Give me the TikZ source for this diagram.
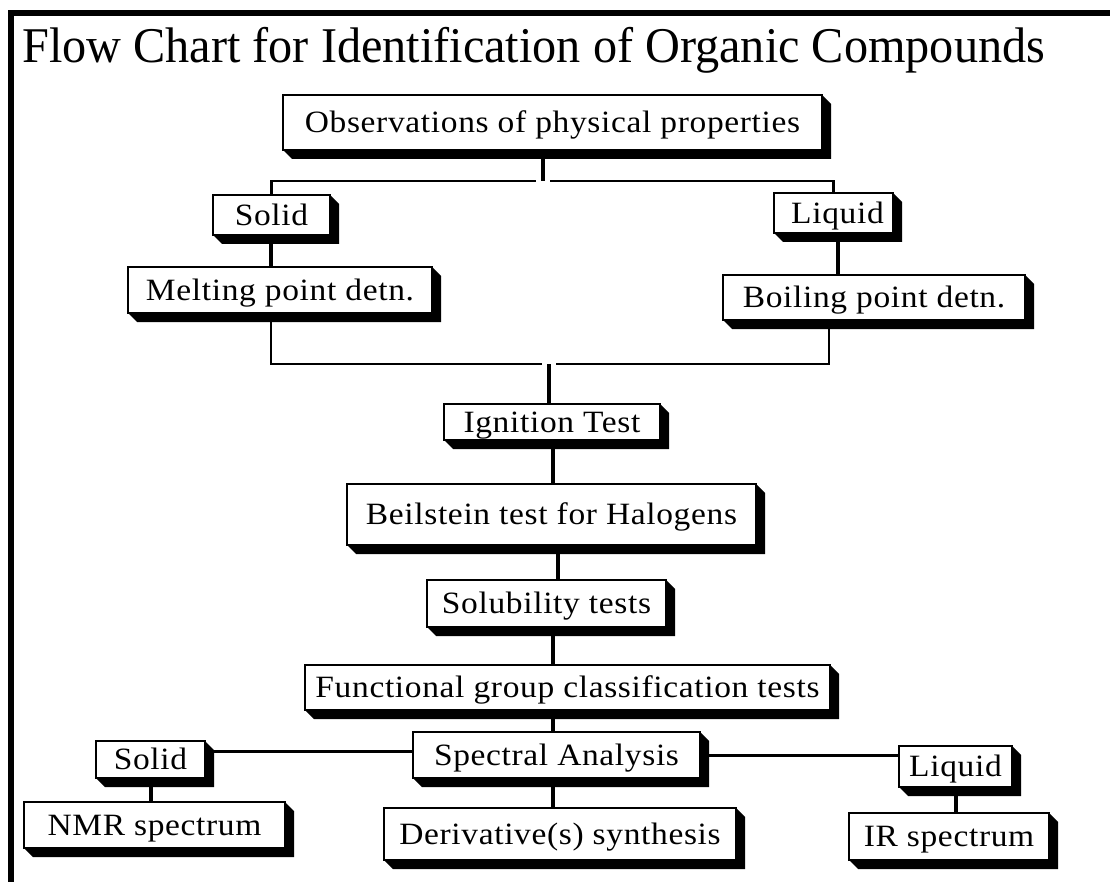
\documentclass[tikz,border=0pt]{standalone}
\usepackage{fontspec}
\setmainfont{Liberation Serif}
\newfontfamily\titlefont[FakeStretch=0.965]{Liberation Serif}
\newfontfamily\boxfont[FakeStretch=1.08,LetterSpace=2.1]{Liberation Serif}
\tikzset{
  boxst/.style={draw, line width=1.4pt, fill=white, inner sep=0pt, outer sep=0pt,
    text height=20.5pt, text depth=0pt, font=\boxfont\fontsize{31}{34}\selectfont},
  vl/.style={line width=4pt},
  hl/.style={line width=2.2pt},
  hlb/.style={line width=3pt},
}
\newcommand\mkbox[6]{%
  \pgfmathsetmacro\bw{#4-#2}\pgfmathsetmacro\bh{#5-#3}%
  \node[boxst, minimum width=\bw pt, minimum height=\bh pt] (#1) at ({(#2+#4)/2},{(#3+#5)/2}) {#6};
  \fill (#1.north east) -- ++(9,9) -- ([shift={(9,9)}]#1.south east) -- ([shift={(9,9)}]#1.south west) -- (#1.south west) -- (#1.south east) -- cycle;
}
\begin{document}
\begin{tikzpicture}[x=1pt,y=-1pt]
\useasboundingbox (0,0) rectangle (1110,882);
\fill[white] (0,0) rectangle (1110,882);
% frame
\draw[line width=6pt] (11,882) -- (11,13.5) -- (1110,13.5);
\node[anchor=base west, inner sep=0pt, font=\titlefont\fontsize{50}{54}\selectfont] (title) at (22,63) {Flow Chart for Identification of Organic Compounds};
% boxes
\mkbox{obs}{283}{95}{822}{150}{Observations of physical properties}
\mkbox{solA}{213}{195}{330}{235}{Solid}
\mkbox{liqA}{774}{193}{893}{233}{\hspace{8pt}Liquid}
\mkbox{melt}{128}{267}{432}{313}{Melting point detn.}
\mkbox{boil}{723}{275}{1025}{320}{Boiling point detn.}
\mkbox{ign}{444}{404}{660}{440}{Ignition Test}
\mkbox{beil}{347}{484}{756}{545}{Beilstein test for Halogens}
\mkbox{solu}{427}{580}{666}{627}{Solubility tests}
\mkbox{func}{305}{665}{830}{710}{Functional group classification tests}
\mkbox{spec}{413}{732}{700}{778}{Spectral Analysis}
\mkbox{solB}{96}{741}{205}{778}{Solid}
\mkbox{liqB}{899}{746}{1012}{787}{Liquid}
\mkbox{nmr}{24}{802}{285}{848}{NMR spectrum}
\mkbox{deriv}{384}{808}{736}{860}{Derivative(s) synthesis}
\mkbox{ir}{849}{813}{1049}{860}{IR spectrum}
% junctions
\coordinate (j1) at (543,181);
\coordinate (j2) at (549,364);
\coordinate (cA) at (271,0);
\coordinate (cB) at (838,0);
\coordinate (cC) at (829,0);
\coordinate (cm) at (553,0);
\coordinate (rowL) at (0,751);
\coordinate (rowR) at (0,755);
% connectors
\draw[vl] (j1 |- obs.south) -- (j1);
\draw[hl] (solA.north) |- ([xshift=-7]j1);
\draw[hl] (liqA.north) |- ([xshift=7]j1);
\draw[vl] (cA |- solA.south) -- (cA |- melt.north);
\draw[vl] (cB |- liqA.south) -- (cB |- boil.north);
\draw[hl] (cA |- melt.south) |- ([xshift=-7]j2);
\draw[hl] (cC |- boil.south) |- ([xshift=7]j2);
\draw[vl] (j2) -- (j2 |- ign.north);
\draw[vl] (cm |- ign.south) -- (cm |- beil.north);
\draw[vl] ([xshift=5]cm |- beil.south) -- ([xshift=5]cm |- solu.north);
\draw[vl] (cm |- solu.south) -- (cm |- func.north);
\draw[vl] (cm |- func.south) -- (cm |- spec.north);
\draw[hlb] (solB.east |- rowL) -- (spec.west |- rowL);
\draw[hlb] (spec.east |- rowR) -- (liqB.west |- rowR);
\draw[vl] (solB.south) -- (solB.south |- nmr.north);
\draw[vl] (cm |- spec.south) -- (cm |- deriv.north);
\draw[vl] (liqB.south) -- (liqB.south |- ir.north);
\end{tikzpicture}
\end{document}
